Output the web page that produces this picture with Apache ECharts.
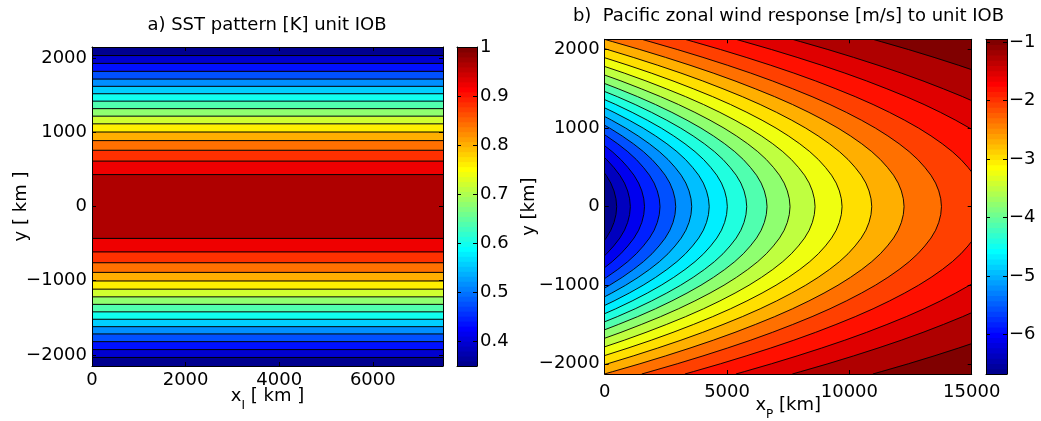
<!DOCTYPE html>
<html><head><meta charset="utf-8">
<script src="https://cdn.jsdelivr.net/npm/echarts@6/dist/echarts.min.js"></script>
<style>html,body{margin:0;padding:0;background:#fff}#c{width:1041px;height:421px}</style>
</head><body><div id="c"></div>
<script>
// ---------------- data ----------------
const titleA = 'a) SST pattern [K] unit IOB';
const titleB = 'b)  Pacific zonal wind response [m/s] to unit IOB';

// panel a: SST bands (km) and band (contour-level) values [K]
const sstXRange = [0, 7500];
const sstYRange = [-2150, 2150];
const sstXTicks = [0, 2000, 4000, 6000];
const sstYTicks = [-2000, -1000, 0, 1000, 2000];
const sstEdgesKm = [-2150, -2035, -1929, -1822, -1718, -1620, -1520, -1420, -1319, -1218, -1114, -1004, -888, -758, -612, -430,
                    430, 612, 758, 888, 1004, 1114, 1218, 1319, 1420, 1520, 1620, 1718, 1822, 1929, 2035, 2150];
const sstBandValues = [0.349, 0.390, 0.431, 0.472, 0.512, 0.553, 0.594, 0.634, 0.675, 0.716, 0.756, 0.797, 0.838, 0.878, 0.919,
                       0.960,
                       0.919, 0.878, 0.838, 0.797, 0.756, 0.716, 0.675, 0.634, 0.594, 0.553, 0.512, 0.472, 0.431, 0.390, 0.349];
const sstColorRange = [0.349, 1.0];
const sstColorTicks = [0.4, 0.5, 0.6, 0.7, 0.8, 0.9, 1];

// panel b: zonal wind response [m/s]
const windXRange = [0, 15000];
const windYRange = [-2130, 2130];
const windXTicks = [0, 5000, 10000, 15000];
const windYTicks = [-2000, -1000, 0, 1000, 2000];
const windColorRange = [-6.68, -0.95];
const windColorTicks = [-6, -5, -4, -3, -2, -1];
// value of each filled band (lowest band first); contour lines separate them
const windBandValues = [-6.68, -6.39, -6.10, -5.82, -5.53, -5.24, -4.96, -4.67, -4.38, -4.10, -3.81,
                        -3.52, -3.24, -2.95, -2.66, -2.38, -2.09, -1.80, -1.52, -1.23, -0.95];
// x (km) where each contour line crosses y = 0 (last four lie beyond the right edge)
const windCrossX = [490, 1048, 1627, 2261, 2903, 3557, 4272, 5012, 5805, 6635, 7575, 8598, 9702, 10915, 12236, 13765,
                    15530, 17614, 19921, 23212];
// how far (km) each contour bends back westward at distance y from the equator
const windBendY = [0, 100, 200, 300, 400, 500, 600, 700, 800, 900, 1000, 1100, 1200, 1300, 1400, 1500, 1600, 1700, 1800, 1900, 2000, 2100, 2130];
const windBendX = [0, 30, 110, 240, 430, 680, 970, 1320, 1730, 2190, 2700, 3270, 3890, 4560, 5290, 6080, 6910, 7800, 8750, 9750, 10800, 11910, 12250];

// ---------------- helpers ----------------
const FONT = 'DejaVu Sans';
function jet(t) {
  const c = x => Math.max(0, Math.min(1, x));
  const r = c(1.5 - Math.abs(4 * t - 3)), g = c(1.5 - Math.abs(4 * t - 2)), b = c(1.5 - Math.abs(4 * t - 1));
  return 'rgb(' + Math.round(r * 255) + ',' + Math.round(g * 255) + ',' + Math.round(b * 255) + ')';
}
function cmap(v, range) {
  const t = (v - range[0]) / (range[1] - range[0]);
  let i = Math.floor(t * 64 + 1e-6) + 1;
  i = Math.max(1, Math.min(64, i));
  return jet(i / 64);
}
const fmt = v => String(v).replace('-', '\u2212');

function mkAxis(grid, range, ticks, position, showLabels, extra) {
  return Object.assign({
    type: 'value', gridIndex: grid, min: range[0], max: range[1], position: position, z: 10,
    nameMoveOverlap: false,
    axisLine: { show: true, onZero: false, lineStyle: { color: '#000', width: 1 } },
    axisTick: { show: ticks.length > 0, inside: true, length: 4, customValues: ticks, lineStyle: { color: '#000', width: 1 } },
    axisLabel: { show: showLabels, customValues: ticks, margin: 5, color: '#000', fontFamily: FONT, fontSize: 18, formatter: fmt },
    splitLine: { show: false },
    axisPointer: { show: false }
  }, extra || {});
}
const richName = {
  m: { fontFamily: FONT, fontSize: 18, color: '#000', verticalAlign: 'bottom', padding: [0, 0, 7, 0] },
  s: { fontFamily: FONT, fontSize: 12, color: '#000', verticalAlign: 'bottom' }
};

function contourPts(X) {
  const pts = [];
  for (let j = windBendY.length - 1; j > 0; j--) pts.push([X - windBendX[j], -windBendY[j]]);
  for (let j = 0; j < windBendY.length; j++) pts.push([X - windBendX[j], windBendY[j]]);
  return pts;
}
function colorbarSeries(xi, yi, range) {
  const steps = Array.from({ length: 64 }, (_, i) => [i]);
  return {
    type: 'custom', xAxisIndex: xi, yAxisIndex: yi, clip: true, silent: true, data: steps,
    renderItem: (p, api) => {
      const i = api.value(0), span = range[1] - range[0];
      const a = api.coord([0, range[0] + (i + 1) * span / 64]);
      const b = api.coord([1, range[0] + i * span / 64]);
      return { type: 'rect', shape: { x: a[0], y: a[1] - 0.5, width: b[0] - a[0], height: b[1] - a[1] + 1 },
               style: { fill: jet((i + 1) / 64) } };
    }
  };
}

// ---------------- chart ----------------
const chart = echarts.init(document.getElementById('c'), null, { renderer: 'canvas' });
const gridA = { left: 92, top: 47, width: 351, height: 319, outerBoundsMode: 'none' };
const gridAc = { left: 457, top: 47, width: 20, height: 319, outerBoundsMode: 'none' };
const gridB = { left: 604.7, top: 39.3, width: 367, height: 334.7, outerBoundsMode: 'none' };
const gridBc = { left: 986, top: 39.3, width: 21, height: 334.7, outerBoundsMode: 'none' };

const option = {
  animation: false,
  backgroundColor: '#fff',
  grid: [gridA, gridAc, gridB, gridBc],
  xAxis: [
    mkAxis(0, sstXRange, sstXTicks, 'bottom', true, {
      name: '{m|x}{s|I}{m| [ km ]}', nameLocation: 'middle', nameGap: 21, nameTextStyle: { rich: richName } }),
    mkAxis(0, sstXRange, sstXTicks, 'top', false),
    mkAxis(1, [0, 1], [], 'bottom', false),
    mkAxis(1, [0, 1], [], 'top', false),
    mkAxis(2, windXRange, windXTicks, 'bottom', true, {
      axisLabel: { show: true, customValues: windXTicks, margin: 9, color: '#000', fontFamily: FONT, fontSize: 18, formatter: fmt },
      name: '{m|x}{s|P}{m| [km]}', nameLocation: 'middle', nameGap: 22, nameTextStyle: { rich: richName } }),
    mkAxis(2, windXRange, windXTicks, 'top', false),
    mkAxis(3, [0, 1], [], 'bottom', false),
    mkAxis(3, [0, 1], [], 'top', false)
  ],
  yAxis: [
    mkAxis(0, sstYRange, sstYTicks, 'left', true, {
      name: 'y [ km ]', nameLocation: 'middle', nameGap: 62, nameRotate: 90,
      nameTextStyle: { fontFamily: FONT, fontSize: 18, color: '#000' } }),
    mkAxis(0, sstYRange, sstYTicks, 'right', false),
    mkAxis(1, sstColorRange, sstColorTicks, 'right', true, { axisLabel: { show: true, customValues: sstColorTicks, margin: 3, color: '#000', fontFamily: FONT, fontSize: 18, formatter: fmt } }),
    mkAxis(1, sstColorRange, sstColorTicks, 'left', false),
    mkAxis(2, windYRange, windYTicks, 'left', true, {
      name: 'y [km]', nameLocation: 'middle', nameGap: 66, nameRotate: 90,
      nameTextStyle: { fontFamily: FONT, fontSize: 18, color: '#000' } }),
    mkAxis(2, windYRange, windYTicks, 'right', false),
    mkAxis(3, windColorRange, windColorTicks, 'right', true, { axisLabel: { show: true, customValues: windColorTicks, margin: 2, color: '#000', fontFamily: FONT, fontSize: 18, formatter: fmt } }),
    mkAxis(3, windColorRange, windColorTicks, 'left', false)
  ],
  graphic: [
    { type: 'text', x: 267, y: 25, silent: true,
      style: { text: titleA, fontFamily: FONT, fontSize: 18, fill: '#000', align: 'center', verticalAlign: 'middle', textAlign: 'center', textVerticalAlign: 'middle' } },
    { type: 'text', x: 788.5, y: 16.5, silent: true,
      style: { text: titleB, fontFamily: FONT, fontSize: 18, fill: '#000', align: 'center', verticalAlign: 'middle', textAlign: 'center', textVerticalAlign: 'middle' } }
  ],
  series: [
    // panel a filled bands
    { type: 'custom', xAxisIndex: 0, yAxisIndex: 0, clip: true, silent: true,
      data: sstBandValues.map((v, i) => [sstEdgesKm[i], sstEdgesKm[i + 1], v]),
      renderItem: (p, api) => {
        const a = api.coord([sstXRange[0], api.value(1)]);
        const b = api.coord([sstXRange[1], api.value(0)]);
        return { type: 'rect', shape: { x: a[0], y: a[1], width: b[0] - a[0], height: b[1] - a[1] },
                 style: { fill: cmap(api.value(2), sstColorRange), stroke: cmap(api.value(2), sstColorRange), lineWidth: 0.5 } };
      } },
    // panel a contour lines
    { type: 'custom', xAxisIndex: 0, yAxisIndex: 0, clip: true, silent: true, z: 3,
      data: sstEdgesKm.slice(1, -1).map(e => [e]),
      renderItem: (p, api) => {
        const a = api.coord([sstXRange[0], api.value(0)]);
        const b = api.coord([sstXRange[1], api.value(0)]);
        return { type: 'polyline', shape: { points: [a, b] }, style: { stroke: '#000', lineWidth: 1, fill: null } };
      } },
    colorbarSeries(2, 2, sstColorRange),
    // panel b filled bands
    { type: 'custom', xAxisIndex: 4, yAxisIndex: 4, clip: true, silent: true,
      data: windBandValues.map((v, k) => [k, v]),
      renderItem: (p, api) => {
        const k = api.value(0), col = cmap(api.value(1), windColorRange);
        if (k === 0) {
          const a = api.coord([windXRange[0], windYRange[1]]), b = api.coord([windXRange[1], windYRange[0]]);
          return { type: 'rect', shape: { x: a[0], y: a[1], width: b[0] - a[0], height: b[1] - a[1] }, style: { fill: col } };
        }
        const far = windXRange[1] * 2;
        const pts = contourPts(windCrossX[k - 1]);
        pts.push([far, windYRange[1]], [far, windYRange[0]]);
        return { type: 'polygon', shape: { points: pts.map(q => api.coord(q)) }, style: { fill: col, stroke: col, lineWidth: 0.5 } };
      } },
    // panel b contour lines
    { type: 'custom', xAxisIndex: 4, yAxisIndex: 4, clip: true, silent: true, z: 3,
      data: windCrossX.map(x => [x]),
      renderItem: (p, api) => {
        const pts = contourPts(api.value(0)).map(q => api.coord(q));
        return { type: 'polyline', shape: { points: pts }, style: { stroke: '#000', lineWidth: 0.9, fill: null } };
      } },
    colorbarSeries(6, 6, windColorRange)
  ]
};
chart.setOption(option);
</script>
</body></html>
